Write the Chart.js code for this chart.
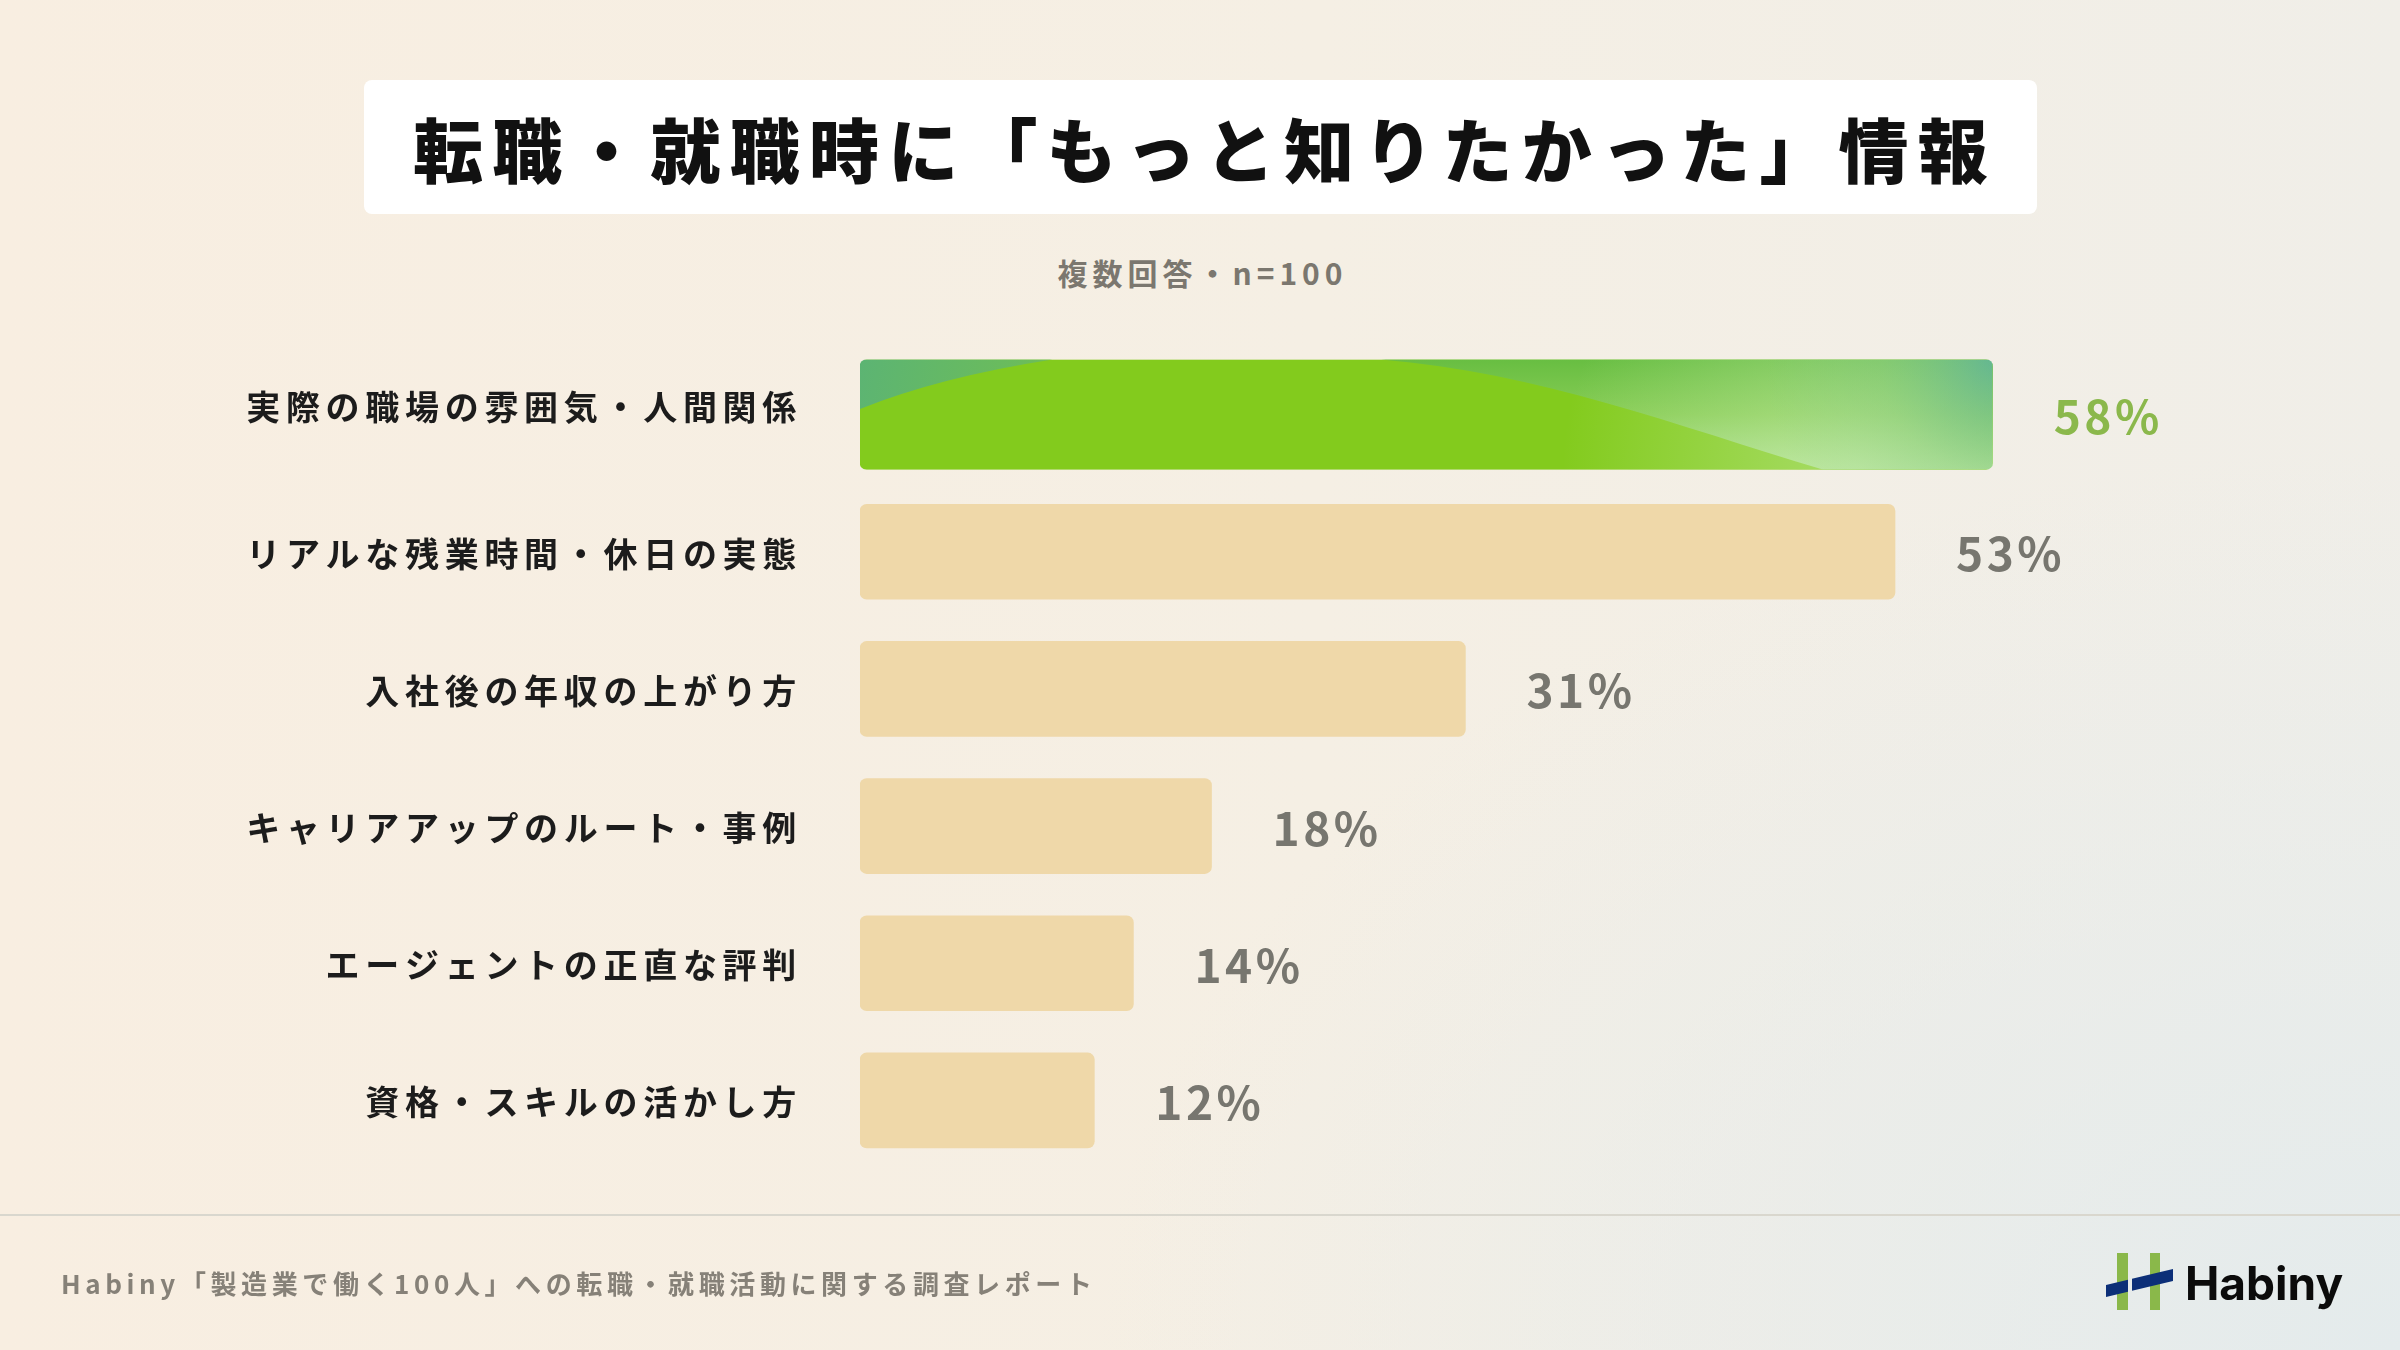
<!DOCTYPE html>
<html lang="ja">
<head>
<meta charset="utf-8">
<title>転職・就職時に「もっと知りたかった」情報</title>
<script src="https://cdn.jsdelivr.net/npm/chart.js@4.4.1/dist/chart.umd.min.js"></script>
<style>
  html, body { margin: 0; padding: 0; }
  body {
    width: 2400px; height: 1350px; position: relative; overflow: hidden;
    font-family: "Noto Sans CJK JP", "Noto Sans", sans-serif;
    background:
      radial-gradient(ellipse 1300px 900px at 100% 100%, rgba(228,235,236,1) 0%, rgba(228,235,236,0) 100%),
      linear-gradient(90deg, #f8eee1 0%, #f5efe4 55%, #f0eee8 100%);
  }
  .title {
    position: absolute; left: 364px; top: 80px; width: 1673px; height: 134px;
    background: #fff; border-radius: 8px;
    display: flex; align-items: center; justify-content: center;
    font-size: 70px; font-weight: 900; letter-spacing: 9.2px; padding-left: 9px; box-sizing: border-box;
    color: #111;
  }
  .sub {
    position: absolute; left: 0; top: 252px; width: 2400px; text-align: center;
    font-size: 30px; line-height: 40px; font-weight: 700; letter-spacing: 5px; padding-left: 5px; box-sizing: border-box; color: #7b776f;
  }
  #chart { position: absolute; left: 0; top: 0; }
  .rule { position: absolute; left: 0; top: 1214px; width: 2400px; height: 2px; background: #d9d7ce; }
  .foot {
    position: absolute; left: 61px; top: 1265px;
    font-size: 26px; line-height: 36px; font-weight: 700; letter-spacing: 4.6px; color: #868178;
  }
  .logo { position: absolute; left: 2100px; top: 1250px; }
  .logo-text {
    position: absolute; left: 2185px; top: 1260px;
    font-family: Inter, "Noto Sans", sans-serif; font-size: 46px; line-height: 46px; font-weight: 700; color: #0b0b0b;
  }
</style>
</head>
<body>
<div class="title">転職・就職時に「もっと知りたかった」情報</div>
<div class="sub">複数回答・n=100</div>
<canvas id="chart" width="2400" height="1350"></canvas>
<div class="rule"></div>
<div class="foot">Habiny「製造業で働く100人」への転職・就職活動に関する調査レポート</div>
<svg class="logo" width="80" height="64" viewBox="0 0 80 64">
  <rect x="17" y="3" width="11" height="57" fill="#8ab84a"/>
  <rect x="50" y="3" width="10" height="57" fill="#8ab84a"/>
  <polygon points="6,35 28,29.75 28,41.75 6,47" fill="#0c2f78"/>
  <polygon points="32,28.8 73,19 73,31 32,40.8" fill="#0c2f78"/>
</svg>
<div class="logo-text">Habiny</div>

<script>
// data
const categories = [
  '実際の職場の雰囲気・人間関係',
  'リアルな残業時間・休日の実態',
  '入社後の年収の上がり方',
  'キャリアアップのルート・事例',
  'エージェントの正直な評判',
  '資格・スキルの活かし方'
];
const values = [58, 53, 31, 18, 14, 12];
const highlightIndex = 0;
const axisMax = 70;

const FONT = '"Noto Sans CJK JP", "Noto Sans", sans-serif';
const BIG_BAR = 110, BAR = 95;

// green fill for the highlighted bar, cached once built
let greenPattern = null;
function greenFill(context) {
    const chart = context.chart;
    const sx = chart.scales.x, sy = chart.scales.y;
    if (!sx || !sy || !chart.chartArea) return '#83cb1d';
    if (greenPattern) return greenPattern;
    const x0 = sx.getPixelForValue(0);
    const x1 = sx.getPixelForValue(values[highlightIndex]);
    const h = BIG_BAR;
    const y0 = sy.getPixelForValue(highlightIndex) - h / 2;
    const w = x1 - x0;

    const off = document.createElement('canvas');
    off.width = chart.width; off.height = chart.height;
    const g = off.getContext('2d');
    g.fillStyle = '#83cb1d';
    g.fillRect(x0, y0, w, h);

    // top-left corner wedge
    let lg = g.createLinearGradient(x0, y0, x0 + 0.17 * w, y0 + 0.45 * h);
    lg.addColorStop(0, '#5cb473');
    lg.addColorStop(1, '#6fbe55');
    g.fillStyle = lg;
    g.beginPath();
    g.moveTo(x0, y0);
    g.lineTo(x0 + 0.17 * w, y0);
    g.quadraticCurveTo(x0 + 0.07 * w, y0 + 0.16 * h, x0, y0 + 0.45 * h);
    g.closePath();
    g.fill();

    // right sweep
    g.save();
    g.beginPath();
    g.moveTo(x0 + 0.46 * w, y0);
    g.bezierCurveTo(x0 + 0.6 * w, y0 + 0.12 * h, x0 + 0.72 * w, y0 + 0.6 * h, x0 + 0.85 * w, y0 + h);
    g.lineTo(x1, y0 + h);
    g.lineTo(x1, y0);
    g.closePath();
    lg = g.createLinearGradient(0, y0, 0, y0 + h);
    lg.addColorStop(0, '#68be42');
    lg.addColorStop(0.5, '#88cd55');
    lg.addColorStop(1, '#b0e190');
    g.fillStyle = lg;
    g.fill();
    g.clip();
    let rg = g.createRadialGradient(x1, y0, 0, x1, y0, 0.2 * w);
    rg.addColorStop(0, 'rgba(72,168,140,0.95)');
    rg.addColorStop(0.5, 'rgba(90,180,110,0.35)');
    rg.addColorStop(1, 'rgba(90,180,110,0)');
    g.fillStyle = rg;
    g.fillRect(x0, y0, w, h);
    g.restore();

    // pale glow low right
    g.save();
    g.beginPath();
    g.rect(x0, y0, w, h);
    g.clip();
    rg = g.createRadialGradient(x0 + 0.88 * w, y0 + h, 0, x0 + 0.88 * w, y0 + h, 0.26 * w);
    rg.addColorStop(0, 'rgba(205,238,180,0.5)');
    rg.addColorStop(1, 'rgba(205,238,180,0)');
    g.fillStyle = rg;
    g.fillRect(x0, y0, w, h);
    g.restore();

    greenPattern = chart.ctx.createPattern(off, 'no-repeat');
    return greenPattern;
}

// category labels and value labels
const labelPlugin = {
    id: 'labels',
    afterDraw(chart) {
        const ctx = chart.ctx;
        const sy = chart.scales.y;
        ctx.save();
        ctx.letterSpacing = '5.7px';
        ctx.font = '700 34px ' + FONT;
        ctx.fillStyle = '#1c1c1c';
        ctx.textAlign = 'right';
        ctx.textBaseline = 'middle';
        categories.forEach(function (c, i) {
            // the taller highlighted bar keeps its label level with the bar top area
            const lift = i === highlightIndex ? (BIG_BAR - BAR) / 2 + 2 : 0;
            ctx.fillText(c, 802, sy.getPixelForValue(i) + 2 - lift);
        });

        ctx.font = '700 46px ' + FONT;
        ctx.letterSpacing = '3.5px';
        ctx.textAlign = 'left';
        values.forEach(function (v, i) {
            const ds = i === highlightIndex ? 0 : 1;
            const el = chart.getDatasetMeta(ds).data[i];
            ctx.fillStyle = i === highlightIndex ? '#8bb84c' : '#77766f';
            ctx.fillText(v + '%', el.x + 61, el.y + 2);
        });
        ctx.restore();
    }
};

new Chart(document.getElementById('chart').getContext('2d'), {
    type: 'bar',
    data: {
        labels: categories,
        datasets: [
            {
                data: values.map((v, i) => i === highlightIndex ? v : null),
                backgroundColor: greenFill,
                barThickness: BIG_BAR,
                grouped: false,
                borderRadius: 7,
                borderSkipped: false
            },
            {
                data: values.map((v, i) => i === highlightIndex ? null : v),
                backgroundColor: '#efd8a9',
                barThickness: BAR,
                grouped: false,
                borderRadius: 7,
                borderSkipped: false
            }
        ]
    },
    options: {
        indexAxis: 'y',
        responsive: false,
        devicePixelRatio: 1,
        animation: false,
        layout: { padding: { left: 860, right: 173, top: 346, bottom: 181 } },
        plugins: { legend: { display: false }, tooltip: { enabled: false } },
        scales: {
            x: { display: false, min: 0, max: axisMax },
            y: { display: false }
        }
    },
    plugins: [labelPlugin]
});
</script>
</body>
</html>
